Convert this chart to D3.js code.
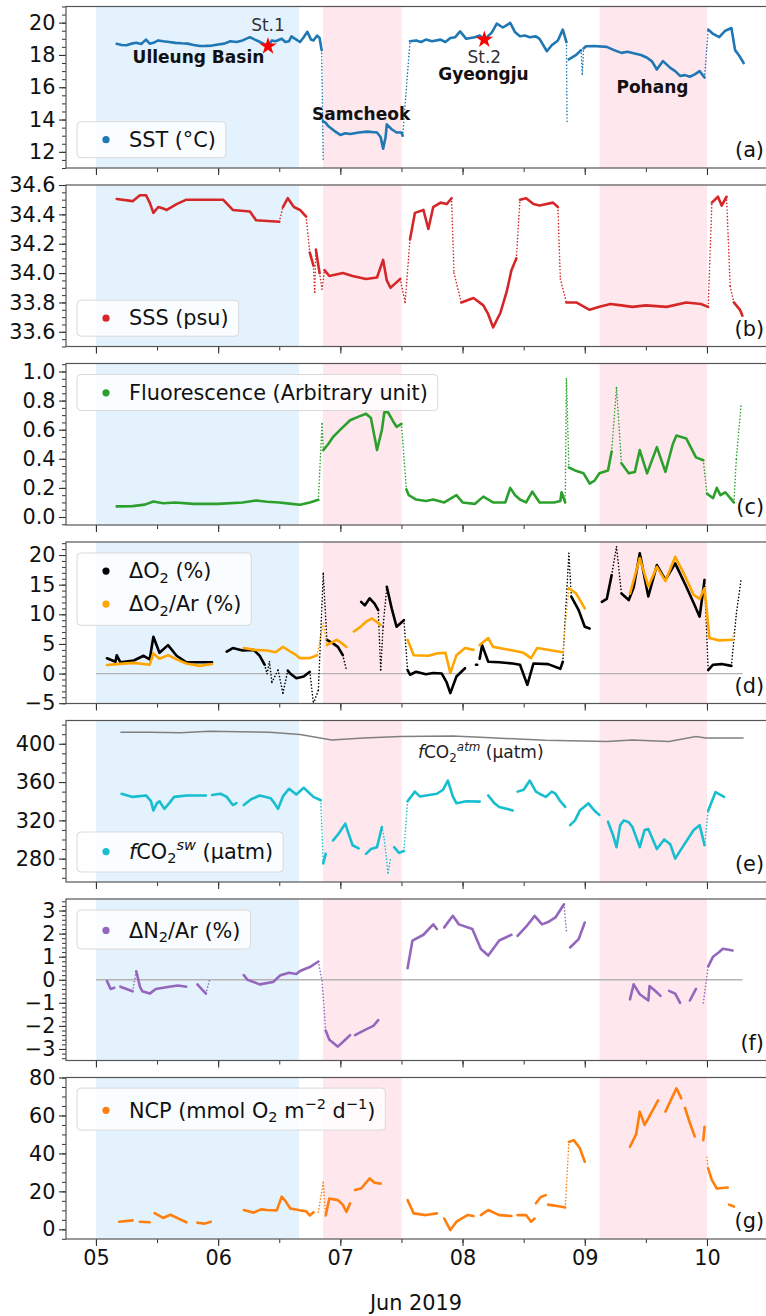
<!DOCTYPE html>
<html>
<head>
<meta charset="utf-8">
<script src="https://cdn.jsdelivr.net/npm/d3@7"></script>
<style>
  body { margin: 0; background: #fff; }
  svg { display: block; font-family: "DejaVu Sans", sans-serif; }
</style>
</head>
<body>
<div id="chart"></div>
<script>
// ----------------------------------
// DATA  (day of June 2019, value); null = gap, 's' = sparse link from previous point
// ----------------------------------
const sst = [[5.17,18.69],[5.21,18.62],[5.25,18.6],[5.29,18.7],[5.33,18.75],[5.37,18.68],[5.41,18.95],[5.44,18.7],[5.47,18.75],[5.51,18.9],[5.55,18.85],[5.6,18.8],[5.65,18.75],[5.7,18.72],[5.75,18.7],[5.8,18.62],[5.85,18.55],[5.9,18.56],[5.95,18.58],[6.0,18.65],[6.05,18.7],[6.1,18.85],[6.15,18.8],[6.2,18.9],[6.26,19.1],[6.3,18.95],[6.33,18.85],[6.37,18.7],[6.41,18.55],[6.44,18.9],[6.47,18.85],[6.52,19.0],[6.55,18.8],[6.58,18.85],[6.6,19.15],[6.63,19.0],[6.67,18.8],[6.7,19.1],[6.73,19.43],[6.76,18.95],[6.78,18.9],[6.81,19.2],[6.83,19.05],[6.847,18.3],[6.86,11.4,'s'],null,
  [6.857,13.9],[6.88,13.8],[6.9,13.6],[6.95,13.3],[7.0,13.05],[7.04,13.15],[7.08,13.1],[7.15,13.2],[7.22,13.25],[7.3,13.2],[7.33,12.9],[7.35,12.2],[7.37,12.9],[7.38,13.7],[7.42,13.4],[7.46,13.2],[7.5,13.2],[7.51,13.0],[7.57,18.85,'s'],[7.62,18.9],[7.66,18.8],[7.7,18.95],[7.75,18.85],[7.82,18.95],[7.86,18.8],[7.9,19.05],[7.94,19.1],[7.98,19.46],[8.03,19.0],[8.1,19.1],[8.14,19.2],[8.18,18.95],[8.24,19.4],[8.28,19.94],[8.33,19.7],[8.39,19.98],[8.43,19.4],[8.47,19.16],[8.51,19.2],[8.55,19.1],[8.6,19.15],[8.63,19.0],[8.69,18.23],[8.73,18.6],[8.78,18.9],[8.82,19.57],[8.85,18.8],[8.855,13.85,'s'],null,
  [8.87,17.72],[8.93,18.0],[8.97,18.3],[8.98,16.8,'s'],[8.99,18.4,'s'],[9.01,18.54],[9.07,18.55],[9.18,18.5],[9.24,18.3],[9.3,18.13],[9.35,18.2],[9.4,18.1],[9.46,18.0],[9.51,17.83],[9.55,17.6],[9.59,17.1],[9.64,17.62],[9.7,17.2],[9.74,17.0],[9.78,16.7],[9.82,16.75],[9.86,16.65],[9.9,16.8],[9.94,17.0],[9.98,16.6],[10.01,19.57,'s'],[10.05,19.3],[10.1,19.1],[10.15,19.5],[10.2,19.67],[10.23,18.3],[10.26,18.0],[10.3,17.5]];

const sss = [[5.17,34.505],[5.30,34.49],[5.36,34.53],[5.41,34.53],[5.44,34.48],[5.47,34.41],[5.51,34.45],[5.55,34.44],[5.58,34.43],[5.66,34.47],[5.74,34.5],[5.9,34.5],[6.04,34.5],[6.12,34.43],[6.26,34.42],[6.31,34.36],[6.5,34.35],[6.53,34.45,'s'],[6.57,34.51],[6.62,34.45],[6.67,34.43],[6.72,34.385],[6.75,34.14,'s'],[6.78,34.05],[6.79,33.87,'s'],[6.8,34.16,'s'],[6.83,34.0],[6.85,33.89,'s'],[6.87,34.02,'s'],[6.91,33.98],[7.02,34.0],[7.1,33.98],[7.21,33.96],[7.3,33.97],[7.35,34.09],[7.38,33.95],[7.41,33.9],[7.45,33.93],[7.49,33.96],[7.53,33.8,'s'],[7.57,34.23,'s'],[7.61,34.41],[7.68,34.43],[7.72,34.3],[7.76,34.45],[7.82,34.48],[7.87,34.47],[7.91,34.51],[7.93,34.0,'s'],[7.99,33.8,'s'],[8.09,33.83],[8.17,33.78],[8.21,33.72],[8.25,33.63],[8.31,33.73],[8.36,33.87],[8.40,34.02],[8.44,34.1],[8.47,34.5,'s'],[8.52,34.51],[8.58,34.47],[8.63,34.46],[8.74,34.48],[8.78,34.45],[8.8,33.96,'s'],[8.85,33.8,'s'],[8.93,33.80],[9.04,33.75],[9.12,33.77],[9.21,33.79],[9.3,33.78],[9.39,33.77],[9.5,33.78],[9.67,33.77],[9.83,33.80],[9.95,33.79],[10.01,33.77],[10.04,34.48,'s'],[10.09,34.52],[10.12,34.46],[10.16,34.52],[10.19,33.91,'s'],[10.22,33.8,'s'],[10.27,33.75],[10.29,33.71]];

const fluor = [[5.17,0.073],[5.3,0.075],[5.4,0.085],[5.47,0.107],[5.55,0.095],[5.65,0.1],[5.8,0.09],[6.0,0.09],[6.2,0.1],[6.31,0.113],[6.4,0.105],[6.5,0.1],[6.6,0.09],[6.67,0.084],[6.75,0.1],[6.82,0.118],[6.85,0.64,'s'],[6.86,0.46,'s'],[6.9,0.5],[6.94,0.55],[7.0,0.6],[7.08,0.665],[7.15,0.69],[7.21,0.71],[7.25,0.68],[7.28,0.55],[7.3,0.46],[7.34,0.6],[7.36,0.72],[7.39,0.72],[7.43,0.66],[7.46,0.62],[7.5,0.64],[7.54,0.19,'s'],[7.56,0.15],[7.62,0.12],[7.7,0.11],[7.76,0.12],[7.85,0.1],[7.95,0.15],[8.0,0.1],[8.1,0.09],[8.17,0.14],[8.25,0.1],[8.35,0.1],[8.39,0.2],[8.43,0.15],[8.47,0.12],[8.52,0.1],[8.57,0.175],[8.63,0.1],[8.75,0.1],[8.80,0.11],[8.81,0.17],[8.84,0.1],[8.85,0.95,'s'],[8.87,0.34,'s'],[8.92,0.32],[8.99,0.30],[9.04,0.23],[9.08,0.25],[9.12,0.30],[9.19,0.32],[9.22,0.45],[9.26,0.89,'s'],[9.30,0.37,'s'],[9.36,0.30],[9.41,0.31],[9.45,0.46],[9.51,0.3],[9.59,0.48],[9.66,0.31],[9.72,0.5],[9.75,0.56],[9.83,0.54],[9.91,0.41],[9.97,0.39],[10.0,0.16,'s'],[10.05,0.13],[10.08,0.2],[10.11,0.15],[10.15,0.17],[10.22,0.1],[10.24,0.4,'s'],[10.28,0.78,'s']];

const dO2 = [[5.09,2.58],[5.16,2.0],[5.17,3.1],[5.2,1.9],[5.31,2.2],[5.39,3.0],[5.44,2.4],[5.47,6.2],[5.52,3.5],[5.59,4.8],[5.66,3.0],[5.74,1.9],[5.85,1.9],[5.95,1.9],null,
  [6.07,3.7],[6.12,4.3],[6.2,3.9],[6.29,4.0],[6.34,3.0],[6.38,1.5],[6.40,0,'s'],[6.42,2.0,'s'],[6.44,-1.5,'s'],[6.49,0.6,'s'],[6.53,-3.3,'s'],[6.57,0.5,'s'],[6.59,0],[6.64,-0.8],[6.7,-0.5],[6.75,0.3],[6.78,-5,'s'],[6.82,-2.8,'s'],[6.86,16.9,'s'],[6.89,5.7,'s'],[6.94,5.1],[6.98,4.5],[7.02,3.1],[7.05,0.6,'s'],null,
  [7.17,12.1],[7.2,11.5],[7.24,12.7],[7.28,11.8],[7.31,10.7],[7.33,0.6,'s'],[7.35,8,'s'],[7.38,14.65,'s'],[7.42,11],[7.46,7.9],[7.52,9],[7.55,0.6,'s'],[7.57,-0.2],[7.62,0.3],[7.7,-0.1],[7.76,0.1],[7.83,0],[7.87,-1.5],[7.90,-3.3],[7.95,-0.5],[8.02,0.9],null,
  [8.11,1.5],[8.12,1.5],null,[8.14,2.5],[8.16,4.8],[8.21,2.0],[8.3,1.9],[8.41,1.7],[8.47,1.5],[8.53,-1.9],[8.58,1.7],[8.7,1.6],[8.80,0.8],[8.82,2.0],[8.87,20.3,'s'],[8.89,13.0,'s'],[8.95,10.7],[9.0,7.9],[9.04,7.6],null,
  [9.14,12.1],[9.18,12.6],[9.22,16.6],[9.26,21.4,'s'],[9.30,13.5,'s'],[9.36,12.4],[9.4,14.5],[9.45,20.3],[9.52,13.0],[9.59,18.3],[9.66,15.8],[9.74,18.6],[9.83,14.7],[9.9,11.5],[9.94,9.6],[9.98,15.8],[10.01,0.6,'s'],[10.05,1.5],[10.12,1.6],[10.2,1.3],[10.24,10.1,'s'],[10.28,16,'s']];

const dO2Ar = [[5.09,1.45],[5.17,1.6],[5.31,1.8],[5.44,1.5],[5.47,3.4],[5.52,2.5],[5.59,3.1],[5.66,2.4],[5.74,1.7],[5.85,1.3],[5.95,1.6],null,
  [6.21,4.3],[6.3,4.0],[6.40,3.9],[6.47,3.6],[6.53,4.5],[6.6,3.6],[6.64,3.1],[6.67,2.6],[6.75,2.6],[6.81,3.1],[6.86,8.5,'s'],[6.89,4.8,'s'],[6.97,5.7],[7.02,5.0],[7.05,4.5],null,
  [7.11,7.1],[7.16,7.8],[7.21,8.75],[7.26,9.3],[7.33,8.2],null,
  [7.55,5.7],[7.60,3.1],[7.72,3.0],[7.79,3.4],[7.86,3.5],[7.90,0.1],[7.95,3.1],[8.02,4.3],[8.09,4.0],null,
  [8.14,4.8],[8.21,6.0],[8.25,4.5],[8.41,3.9],[8.5,3.5],[8.56,2.6],[8.61,4.3],[8.82,3.6],[8.87,14.4,'s'],[8.93,13.5],[9.0,11],null,
  [9.37,13.5],[9.45,19.5],[9.52,14.7],[9.59,18.0],[9.66,15.6],[9.74,19.7],[9.81,16.9],[9.89,13.3],[9.94,12.6],[9.98,14.4],[10.02,6.0],[10.1,5.6],[10.21,5.7],[10.22,7,'s']];

const fco2Atm = [[5.2,412],[5.44,412],[5.69,411.5],[5.93,413],[6.17,412.5],[6.42,412],[6.67,409.7],[6.93,404],[7.19,406],[7.49,407.5],[7.92,408],[8.19,406.5],[8.68,403.6],[9.18,402.4],[9.39,404],[9.69,402.4],[9.91,407.5],[9.99,406],[10.3,406]];

const fco2Sw = [[5.21,347.8],[5.30,344.5],[5.41,346],[5.45,340],[5.47,330.4],[5.5,338],[5.52,340],[5.56,332],[5.60,338],[5.64,344.5],[5.74,346],[5.90,346],null,
  [5.95,346.5],[6.02,347.8],[6.07,344.5],[6.12,336],[6.15,338],null,
  [6.21,336],[6.27,342],[6.34,346],[6.43,343],[6.46,338],[6.49,332],[6.53,345],[6.58,353],[6.64,347],[6.70,354],[6.78,344.5],[6.84,341],[6.86,275,'s'],[6.88,285],null,
  [6.94,299],[6.98,305],[7.04,316.5],[7.07,305],[7.10,294],[7.15,290.8],null,
  [7.21,285],[7.25,290],[7.30,292],[7.34,313],[7.36,300,'s'],[7.39,265,'s'],[7.41,280,'s'],null,
  [7.44,292],[7.48,286],[7.52,288],[7.55,340,'s'],[7.61,350],[7.65,345],[7.70,346],[7.79,347.8],[7.84,352],[7.88,361.6],[7.92,345],[7.95,337.8],[8.03,340],[8.14,339.6],null,
  [8.21,346],[8.26,338],[8.30,334],[8.41,330.4],null,
  [8.45,350],[8.50,352],[8.55,361.6],[8.6,350],[8.63,347.8],[8.68,344.5],[8.73,350],[8.76,347.8],[8.8,340],[8.84,334],null,
  [8.88,315],[8.92,320],[8.96,330.4],[9.03,337.8],[9.08,330],[9.12,325.7],null,
  [9.19,318.6],[9.23,305],[9.26,292],[9.29,315],[9.32,320],[9.36,318],[9.39,313],[9.45,292],[9.49,310],[9.52,311],[9.59,290],[9.65,300],[9.70,295],[9.74,280],[9.8,292],[9.89,309.6],[9.94,315],[9.98,294],[10.01,330,'s'],[10.07,349.6],[10.14,344.5]];

const dN2Ar = [[5.09,-0.05],[5.12,-0.4],[5.15,-0.35],null,
  [5.2,-0.3],[5.3,-0.5],[5.33,0.37,'s'],[5.36,-0.3],[5.38,-0.5],[5.44,-0.6],[5.49,-0.4],[5.55,-0.35],[5.6,-0.3],[5.67,-0.25],[5.74,-0.3],null,
  [5.83,-0.2],[5.9,-0.6],[5.93,0,'s'],null,
  [6.21,0.2],[6.24,0],[6.34,-0.2],[6.45,-0.1],[6.51,0.2],[6.58,0.3],[6.64,0.25],[6.67,0.38],[6.75,0.55],[6.82,0.79],[6.85,-0.05,'s'],[6.88,-2.2,'s'],[6.91,-2.6],[6.98,-2.9],[7.04,-2.6],[7.08,-2.4],null,
  [7.12,-2.4],[7.21,-2.15],[7.27,-2.0],[7.31,-1.75],null,
  [7.55,0.5],[7.59,1.7],[7.68,1.95],[7.76,2.4],[7.79,2.2],null,
  [7.85,2.27],[7.92,2.77],[7.97,2.4],[8.08,2.2],[8.15,1.33],[8.21,1.05],[8.30,1.7],[8.40,1.95],null,
  [8.45,1.9],[8.52,2.3],[8.59,2.77],[8.65,2.4],[8.7,2.5],[8.76,2.7],[8.83,3.27],[8.85,2.1,'s'],null,
  [8.88,1.4],[8.95,1.76],[9.0,2.48],null,
  [9.37,-0.85],[9.40,-0.2],[9.45,-0.63],[9.52,-0.9],[9.53,-0.27],[9.58,-0.5],[9.62,-0.7],null,
  [9.69,-0.48],[9.74,-0.6],[9.78,-1.0],null,
  [9.86,-0.9],[9.91,-0.4],null,
  [9.97,-1.0],[10.01,0.58,'s'],[10.05,1.0],[10.1,1.2],[10.13,1.34],[10.21,1.27]];

const ncp = [[5.19,4.0],[5.30,4.7],null,[5.36,4.0],[5.44,3.7],null,
  [5.48,8.5],[5.55,6],[5.61,7.7],[5.68,5.5],[5.74,3.7],null,
  [5.83,3.5],[5.89,3.0],[5.94,4.0],null,
  [6.21,10.2],[6.29,8.8],[6.35,10.5],[6.40,10.2],[6.48,10],[6.52,17.2],[6.55,15],[6.59,11],[6.67,10],[6.72,9.5],[6.75,7.3],[6.78,9],null,
  [6.82,9],[6.86,24.8,'s'],[6.88,7.3,'s'],[6.91,16.2],[6.98,15.4],[7.02,13],[7.05,9.2],[7.08,13.7],null,
  [7.12,20.7],[7.17,21.5],[7.24,26.8],[7.28,24.5],[7.33,24.1],null,
  [7.55,15.4],[7.60,8.4],[7.70,7.5],[7.79,8.4],null,
  [7.85,5.7],[7.90,-0.4],[7.95,4],[8.04,7.5],[8.09,7],null,
  [8.15,7.5],[8.21,10.2],[8.30,7.5],[8.40,7],null,
  [8.45,7.5],[8.52,7.5],[8.56,4],[8.59,5.7],null,
  [8.60,13.7],[8.64,17],[8.68,18],null,
  [8.70,13],[8.80,12],[8.84,11.5],[8.87,46,'s'],[8.91,47],[8.96,42.7],[9.0,35.6],null,
  [9.37,43.5],[9.42,50],[9.45,62],[9.49,55],[9.52,58.5],[9.60,68],null,
  [9.66,62],[9.75,74.3],[9.79,69],null,
  [9.82,64],[9.86,56],[9.90,49],null,
  [9.97,47],[9.98,54],null,
  [10.0,38],[10.01,32,'s'],[10.04,26],[10.08,21.5],[10.17,22],null,
  [10.18,13],[10.22,12]];

// shaded regions: [start day, end day, kind]
const regions = [[5.0, 6.661, 'basin'], [6.858, 7.502, 'coast'], [9.121, 10.0, 'coast']];

// stations: [day, SST, label]
const stations = [[6.408, 18.54, 'St.1'], [8.178, 18.95, 'St.2']];
// place names: [day, SST, label]
const places = [[5.839, 17.48, 'Ulleung Basin'], [7.17, 13.97, 'Samcheok'], [8.171, 16.42, 'Gyeongju'], [9.554, 15.67, 'Pohang']];

// y tick labels
const sstTicks = [12, 14, 16, 18, 20];
const sssTicks = [33.6, 33.8, 34.0, 34.2, 34.4, 34.6];
const fluorTicks = [0.0, 0.2, 0.4, 0.6, 0.8, 1.0];
const o2Ticks = [-5, 0, 5, 10, 15, 20];
const co2Ticks = [280, 320, 360, 400];
const n2Ticks = [-3, -2, -1, 0, 1, 2, 3];
const ncpTicks = [0, 20, 40, 60, 80];
const zeroLineSpan = [5.0, 10.292];

// ----------------------------------
// LAYOUT
// ----------------------------------
const width = 766, height = 1316;
const left = 66, right = 766;
const panelTop0 = 6.5, panelStep = 178.5, panelH = 161.5;
const fs = 20.8;

const jun = d => new Date(Date.UTC(2019, 4, 31) + d * 864e5);

const x = d3.scaleUtc()
  .domain([jun(4.755), jun(10.483)])
  .range([left, right]);

const panels = [
  { letter: 'a', domain: [11, 21], ticks: sstTicks, minor: 0.5, fmt: d3.format('d'),
    series: [{ data: sst, color: '#1f77b4' }],
    legend: { anchor: 'bottom', off: 10.3, h: 36, base: 25.2, rows: [{ color: '#1f77b4', parts: [['SST (°C)']] }] } },
  { letter: 'b', domain: [33.5, 34.6], ticks: sssTicks, minor: 0.05, fmt: d3.format('.1f'),
    series: [{ data: sss, color: '#d62728' }],
    legend: { anchor: 'bottom', off: 10.3, h: 36, base: 25.2, rows: [{ color: '#d62728', parts: [['SSS (psu)']] }] } },
  { letter: 'c', domain: [-0.055, 1.055], ticks: fluorTicks, minor: 0.05, fmt: d3.format('.1f'),
    series: [{ data: fluor, color: '#2ca02c' }],
    legend: { anchor: 'top', off: 11, h: 36, base: 25.5, rows: [{ color: '#2ca02c', parts: [['Fluorescence (Arbitrary unit)']] }] } },
  { letter: 'd', domain: [-5.05, 22.2], ticks: o2Ticks, minor: 1, fmt: d3.format('d'), zero: true,
    series: [{ data: dO2, color: '#000000' }, { data: dO2Ar, color: '#ffa500' }],
    legend: { anchor: 'top', off: 11, h: 72.3, base: 25.3, rows: [
      { color: '#000000', parts: [['ΔO'], ['2', 'sub'], [' (%)']] },
      { color: '#ffa500', parts: [['ΔO'], ['2', 'sub'], ['/Ar (%)']] }] } },
  { letter: 'e', domain: [255.6, 424.3], ticks: co2Ticks, minor: 10, fmt: d3.format('d'),
    series: [{ data: fco2Sw, color: '#17becf' }], atm: fco2Atm,
    legend: { anchor: 'bottom', off: 10, h: 40, base: 26.8, rows: [{ color: '#17becf', parts: [['f', 'it'], ['CO'], ['2', 'sub'], ['sw', 'itsup'], [' (µatm)']] }] } },
  { letter: 'f', domain: [-3.5, 3.5], ticks: n2Ticks, minor: 0.2, fmt: d3.format('d'), zero: true,
    series: [{ data: dN2Ar, color: '#9467bd' }],
    legend: { anchor: 'top', off: 11, h: 39, base: 27.6, rows: [{ color: '#9467bd', parts: [['ΔN'], ['2', 'sub'], ['/Ar (%)']] }] } },
  { letter: 'g', domain: [-5.1, 80], ticks: ncpTicks, minor: 5, fmt: d3.format('d'),
    series: [{ data: ncp, color: '#ff7f0e' }],
    legend: { anchor: 'top', off: 10.6, h: 42, base: 29.4, rows: [{ color: '#ff7f0e', parts: [['NCP (mmol O'], ['2', 'sub'], [' m'], ['−2', 'sup'], [' d'], ['−1', 'sup'], [')']] }] } }
];

const svg = d3.select('#chart').append('svg')
  .attr('width', width)
  .attr('height', height);

svg.append('defs').append('clipPath').attr('id', 'clip-x')
  .append('rect').attr('x', left).attr('y', 0).attr('width', right - left).attr('height', height);

// rich text with sub / superscripts
function richText(text, parts, size) {
  let shift = 0;
  parts.forEach(([str, kind]) => {
    let target = 0, fsz = size, style = 'normal';
    if (kind === 'sub') { target = 0.22 * size; fsz = 0.7 * size; }
    if (kind === 'sup' || kind === 'itsup') { target = -0.42 * size; fsz = 0.7 * size; }
    if (kind === 'it' || kind === 'itsup') style = 'italic';
    text.append('tspan')
      .attr('dy', target - shift)
      .attr('font-size', fsz)
      .attr('font-style', style)
      .text(str);
    shift = target;
  });
  return text;
}

function drawSeries(g, data, color, y) {
  const solids = [], sparse = [];
  let cur = null, prev = null;
  data.forEach(p => {
    if (p === null) { cur = null; prev = null; return; }
    if (prev && p[2] === 's') {
      sparse.push([prev, p]);
      cur = [p]; solids.push(cur);
    } else if (!cur) {
      cur = [p]; solids.push(cur);
    } else {
      cur.push(p);
    }
    prev = p;
  });

  const line = d3.line()
    .x(d => x(jun(d[0])))
    .y(d => y(d[1]));

  g.selectAll(null)
    .data(solids.filter(s => s.length > 1))
    .join('path')
    .attr('d', line)
    .attr('fill', 'none')
    .attr('stroke', color)
    .attr('stroke-width', 2.6)
    .attr('stroke-linejoin', 'round')
    .attr('stroke-linecap', 'round');

  g.selectAll(null)
    .data(sparse)
    .join('path')
    .attr('d', line)
    .attr('fill', 'none')
    .attr('stroke', color)
    .attr('stroke-width', 1.6)
    .attr('stroke-dasharray', '0.1 3.2')
    .attr('stroke-linecap', 'round');
}

panels.forEach((p, i) => {
  const top = panelTop0 + i * panelStep;
  const bottom = top + panelH;
  const y = d3.scaleLinear().domain(p.domain).range([bottom, top]);
  const g = svg.append('g').attr('class', `panel panel-${p.letter}`);

  // shading
  g.selectAll('rect.region')
    .data(regions)
    .join('rect')
    .attr('class', 'region')
    .attr('x', d => x(jun(d[0])))
    .attr('width', d => x(jun(d[1])) - x(jun(d[0])))
    .attr('y', top)
    .attr('height', panelH)
    .attr('fill', d => d[2] === 'basin' ? '#e3f2fc' : '#fee8ee');

  const plot = g.append('g')
    .attr('clip-path', 'url(#clip-x)');

  if (p.zero) {
    plot.append('line')
      .attr('x1', x(jun(zeroLineSpan[0])))
      .attr('x2', x(jun(zeroLineSpan[1])))
      .attr('y1', y(0)).attr('y2', y(0))
      .attr('stroke', '#b4b4b4')
      .attr('stroke-width', 1.3);
  }

  if (p.atm) {
    plot.append('path')
      .datum(p.atm)
      .attr('d', d3.line().x(d => x(jun(d[0]))).y(d => y(d[1])))
      .attr('fill', 'none')
      .attr('stroke', '#808080')
      .attr('stroke-width', 1.5);
    richText(plot.append('text')
      .attr('x', 418)
      .attr('y', y(fco2Atm[0][1]) + 26)
      .attr('font-size', 17)
      .attr('fill', '#222'),
      [['f', 'it'], ['CO'], ['2', 'sub'], ['atm', 'itsup'], [' (µatm)']], 17);
  }

  p.series.forEach(s => drawSeries(plot, s.data, s.color, y));

  if (p.letter === 'a') {
    plot.selectAll('path.star')
      .data(stations)
      .join('path')
      .attr('class', 'star')
      .attr('transform', d => `translate(${x(jun(d[0]))},${y(d[1])})`)
      .attr('d', d3.symbol().type(d3.symbolStar).size(95))
      .attr('fill', '#ff0000');
    plot.selectAll('text.station')
      .data(stations)
      .join('text')
      .attr('class', 'station')
      .attr('x', d => x(jun(d[0])))
      .attr('y', (d, k) => k === 0 ? y(d[1]) - 15 : y(d[1]) + 23)
      .attr('text-anchor', 'middle')
      .attr('font-size', 17)
      .attr('fill', '#333')
      .text(d => d[2]);
    plot.selectAll('text.place')
      .data(places)
      .join('text')
      .attr('class', 'place')
      .attr('x', d => x(jun(d[0])))
      .attr('y', d => y(d[1]))
      .attr('text-anchor', 'middle')
      .attr('font-size', 17)
      .attr('font-weight', 'bold')
      .attr('fill', '#111')
      .text(d => d[2]);
  }

  // y axis
  const lo = p.domain[0], hi = p.domain[1];
  const minorVals = d3.range(Math.ceil(lo / p.minor - 1e-6), Math.floor(hi / p.minor + 1e-6) + 1).map(k => k * p.minor);
  g.append('g')
    .attr('transform', `translate(${left},0)`)
    .call(d3.axisLeft(y).tickValues(minorVals).tickSize(4).tickFormat(''))
    .call(a => a.select('.domain').remove())
    .call(a => a.selectAll('line').attr('stroke', '#333'));
  g.append('g')
    .attr('transform', `translate(${left},0)`)
    .call(d3.axisLeft(y).tickValues(p.ticks).tickSize(7).tickPadding(3.5).tickFormat(p.fmt))
    .call(a => a.select('.domain').remove())
    .call(a => a.selectAll('line').attr('stroke', '#333').attr('stroke-width', 1.1))
    .call(a => a.selectAll('text').attr('font-size', fs).attr('font-family', 'DejaVu Sans').attr('fill', '#111'));

  // x axis
  g.append('g')
    .attr('transform', `translate(0,${bottom})`)
    .call(d3.axisBottom(x).ticks(d3.utcHour.every(12)).tickSize(4).tickFormat(''))
    .call(a => a.select('.domain').remove())
    .call(a => a.selectAll('line').attr('stroke', '#333'));
  g.append('g')
    .attr('transform', `translate(0,${bottom})`)
    .call(d3.axisBottom(x).ticks(d3.utcDay.every(1)).tickSize(7).tickPadding(4)
      .tickFormat(i === panels.length - 1 ? d3.utcFormat('%d') : ''))
    .call(a => a.select('.domain').remove())
    .call(a => a.selectAll('line').attr('stroke', '#333').attr('stroke-width', 1.1))
    .call(a => a.selectAll('text').attr('font-size', fs).attr('font-family', 'DejaVu Sans').attr('fill', '#111'));

  // frame
  g.append('rect')
    .attr('x', left).attr('y', top)
    .attr('width', right - left + 2).attr('height', panelH)
    .attr('fill', 'none')
    .attr('stroke', '#555')
    .attr('stroke-width', 1.2);

  // legend
  const L = p.legend;
  const ly = L.anchor === 'top' ? top + L.off : bottom - L.off - L.h;
  const lg = g.append('g').attr('class', 'legend');
  const box = lg.append('rect')
    .attr('x', 77).attr('y', ly)
    .attr('height', L.h)
    .attr('rx', 4)
    .attr('fill', '#ffffff')
    .attr('fill-opacity', 0.8)
    .attr('stroke', '#d9d9d9')
    .attr('stroke-width', 1);
  let maxLen = 0;
  L.rows.forEach((r, k) => {
    const base = ly + L.base + k * 33;
    lg.append('circle')
      .attr('cx', 106).attr('cy', base - 7.2)
      .attr('r', 3.6)
      .attr('fill', r.color);
    const t = richText(lg.append('text')
      .attr('x', 129).attr('y', base)
      .attr('font-size', fs)
      .attr('fill', '#111'), r.parts, fs);
    maxLen = Math.max(maxLen, t.node().getComputedTextLength());
  });
  box.attr('width', 129 - 77 + maxLen + 10);

  // panel letter
  g.append('text')
    .attr('x', 764).attr('y', bottom - 11)
    .attr('text-anchor', 'end')
    .attr('font-size', fs)
    .attr('fill', '#111')
    .text(`(${p.letter})`);
});

svg.append('text')
  .attr('x', (left + right) / 2)
  .attr('y', 1310)
  .attr('text-anchor', 'middle')
  .attr('font-size', fs)
  .attr('fill', '#111')
  .text('Jun 2019');
</script>
</body>
</html>
